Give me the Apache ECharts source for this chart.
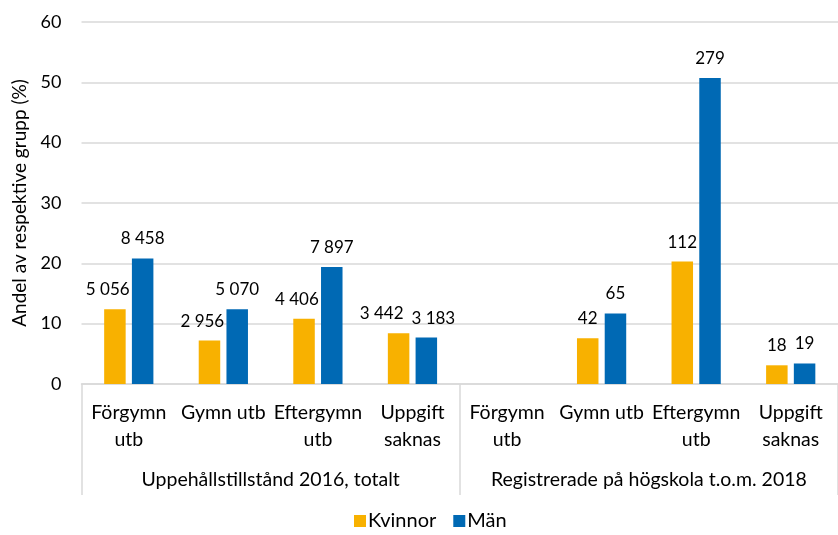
<!DOCTYPE html>
<html>
<head>
<meta charset="utf-8">
<script src="https://cdn.jsdelivr.net/npm/echarts@6/dist/echarts.min.js"></script>
<style>
  html, body { margin: 0; padding: 0; background: #fff; }
  #chart { width: 838px; height: 535px; }
</style>
</head>
<body>
<div id="chart"></div>
<script>
// kategorier (inre nivå) och grupper (yttre nivå)
const categories = [
  "Förgymn\nutb", "Gymn utb", "Eftergymn\nutb", "Uppgift\nsaknas",
  "Förgymn\nutb", "Gymn utb", "Eftergymn\nutb", "Uppgift\nsaknas"
];
const groups = ["Uppehållstillstånd 2016, totalt", "Registrerade på högskola t.o.m. 2018"];

// andel (%)
const kvinnor = [12.4, 7.2, 10.8, 8.4, null, 7.6, 20.3, 3.1];
const man     = [20.8, 12.4, 19.4, 7.7, null, 11.7, 50.7, 3.4];

// antal (etiketter)
const kvinnorAntal = ["5 056", "2 956", "4 406", "3 442", "", "42", "112", "18"];
const manAntal     = ["8 458", "5 070", "7 897", "3 183", "", "65", "279", "19"];

const yTicks = { min: 0, max: 60, interval: 10 };

const FONT = "Lato";
const GRID_COLOR = "#d9d9d9";

const chart = echarts.init(document.getElementById("chart"));

function barLabel(texts){
  return {
    show: true,
    position: "top",
    distance: 11,
    color: "#000",
    fontFamily: FONT,
    fontSize: 17,
    formatter: (p) => texts[p.dataIndex]
  };
}

// etiketter som hamnar på samma höjd och är breda skjuts isär (som i Excel)
function labelsCollide(i, labelRect, barRect){
  const pxPerUnit = (535 - 22 - 151) / (yTicks.max - yTicks.min);
  const sameHeight = Math.abs((kvinnor[i] || 0) - (man[i] || 0)) * pxPerUnit < labelRect.height;
  const wide = labelRect.width > barRect.width * 1.3;
  return sameHeight && wide;
}

chart.setOption({
  animation: false,
  textStyle: { fontFamily: FONT },
  grid: { left: 81.5, right: -11.5, top: 22, bottom: 151, containLabel: false },
  legend: {
    data: ["Kvinnor", "Män"],
    bottom: -1,
    left: 349,
    icon: "rect",
    itemWidth: 12,
    itemHeight: 12,
    itemGap: 17,
    textStyle: { fontFamily: FONT, fontSize: 20, color: "#000", padding: [0, 0, 0, -3] }
  },
  xAxis: [
    {
      type: "category",
      data: categories,
      position: "bottom",
      axisLine: { show: true, lineStyle: { color: GRID_COLOR, width: 1.5 } },
      axisTick: { show: false },
      axisLabel: {
        interval: 0,
        margin: 15,
        fontFamily: FONT,
        fontSize: 19.5,
        lineHeight: 27,
        color: "#000"
      }
    },
    {
      type: "category",
      data: groups,
      position: "bottom",
      axisLine: { show: false },
      axisTick: { show: true, length: 111, interval: 0, lineStyle: { color: GRID_COLOR, width: 1.5 } },
      axisLabel: {
        interval: 0,
        margin: 86,
        fontFamily: FONT,
        fontSize: 19.5,
        color: "#000"
      }
    }
  ],
  yAxis: {
    type: "value",
    min: yTicks.min,
    max: yTicks.max,
    interval: yTicks.interval,
    name: "Andel av respektive grupp (%)",
    nameLocation: "middle",
    nameGap: 50,
    nameTextStyle: { fontFamily: FONT, fontSize: 19, color: "#000" },
    axisLine: { show: false },
    axisTick: { show: false },
    axisLabel: { margin: 20, fontFamily: FONT, fontSize: 18, color: "#000" },
    splitLine: { lineStyle: { color: GRID_COLOR, width: 1.5 } }
  },
  series: [
    {
      name: "Kvinnor",
      type: "bar",
      xAxisIndex: 0,
      data: kvinnor,
      barWidth: 21.5,
      barGap: "29%",
      itemStyle: { color: "#F8B100" },
      label: barLabel(kvinnorAntal),
      labelLayout: (p) => {
        const w = p.labelRect.width, bw = p.rect.width;
        if (labelsCollide(p.dataIndex, p.labelRect, p.rect)) return { dx: -17 };
        return { dx: -Math.max(0, (w - bw) / 2 - 4) };
      }
    },
    {
      name: "Män",
      type: "bar",
      xAxisIndex: 0,
      data: man,
      barWidth: 21.5,
      barGap: "29%",
      itemStyle: { color: "#0069B4" },
      label: barLabel(manAntal),
      labelLayout: (p) => {
        if (labelsCollide(p.dataIndex, p.labelRect, p.rect)) return { dx: 7 };
        return {};
      }
    }
  ]
});
</script>
</body>
</html>
